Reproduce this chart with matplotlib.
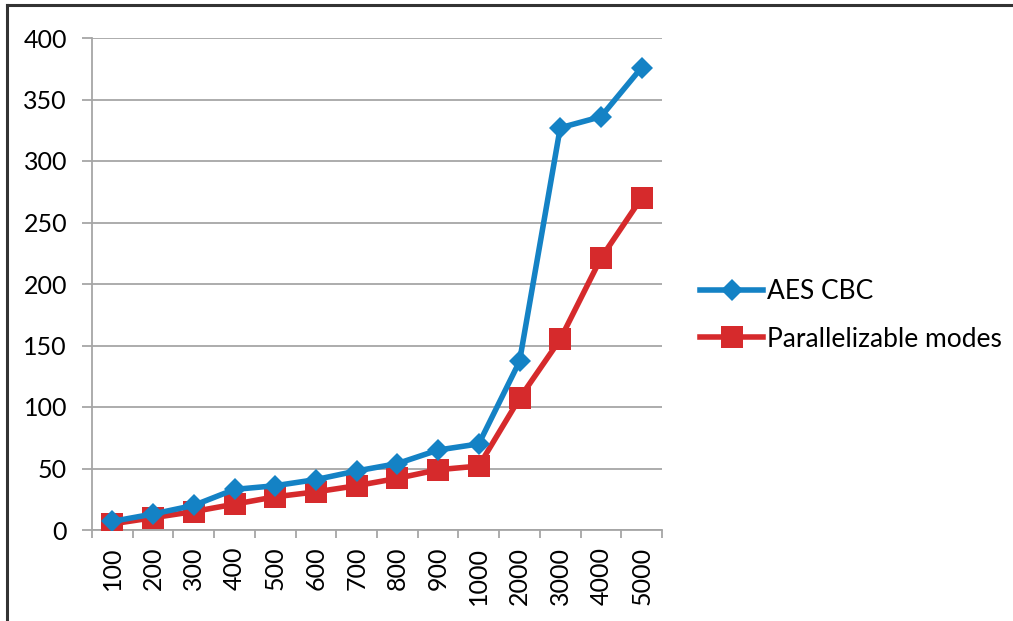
#!/usr/bin/env python3
"""AES CBC vs parallelizable modes timing chart."""

import matplotlib
matplotlib.use('Agg')
import matplotlib.pyplot as plt
from matplotlib.lines import Line2D

# --- DATA ---
sizes = ['100', '200', '300', '400', '500', '600', '700', '800', '900',
         '1000', '2000', '3000', '4000', '5000']
aes_cbc = [7, 13, 20, 33, 36, 41, 48, 54, 65, 70, 137, 327, 336, 376]
parallel = [5, 10, 15, 21, 27, 31, 36, 42, 49, 52, 107, 155, 221, 270]
y_ticks = [0, 50, 100, 150, 200, 250, 300, 350, 400]

BLUE = '#1482C5'
RED = '#D62A2C'
GRID = '#A6A6A6'
FS = 18

plt.rcParams['font.family'] = ['Lato', 'DejaVu Sans']

fig = plt.figure(figsize=(10.13, 6.21), dpi=100)
ax = fig.add_axes([92 / 1013, 91 / 621, 570 / 1013, 492 / 621])

x = list(range(len(sizes)))
ax.plot(x, aes_cbc, color=BLUE, lw=4, marker='D', ms=11.5,
        mec=BLUE, mew=0, label='AES CBC', zorder=4)
ax.plot(x, parallel, color=RED, lw=4, marker='s', ms=15.5,
        mec=RED, mew=0, label='Parallelizable modes', zorder=3)

ax.set_xlim(-0.5, len(sizes) - 0.5)
ax.set_ylim(0, 400)
ax.set_yticks(y_ticks)
ax.set_xticks(x)
ax.set_xticklabels(sizes, rotation=90, fontsize=FS)
ax.set_xticks([i - 0.5 for i in range(len(sizes) + 1)], minor=True)

ax.yaxis.grid(True, color=GRID, lw=1.3)
ax.set_axisbelow(True)
for side in ('top', 'right'):
    ax.spines[side].set_visible(False)
for side in ('left', 'bottom'):
    ax.spines[side].set_color(GRID)
    ax.spines[side].set_linewidth(1.3)

ax.tick_params(axis='y', labelsize=FS, length=7, width=1.3, color=GRID, pad=11)
ax.tick_params(axis='x', which='major', length=0, pad=12)
ax.tick_params(axis='x', which='minor', length=6, width=1.3, color=GRID)

handles = [
    Line2D([], [], color=BLUE, lw=4, marker='D', ms=11.5, mew=0),
    Line2D([], [], color=RED, lw=4, marker='s', ms=15.5, mew=0),
]
fig.legend(handles, ['AES CBC', 'Parallelizable modes'], loc='center left',
           bbox_to_anchor=(700 / 1013, 0.492), frameon=False, fontsize=19,
           handlelength=2.4, handletextpad=0.15, labelspacing=0.85,
           borderpad=0, borderaxespad=0)

# outer frame lines (top and left only)
fig.add_artist(Line2D([7 / 1013, 1.0], [1 - 5 / 621, 1 - 5 / 621],
                      transform=fig.transFigure, color='#333333', lw=2.2))
fig.add_artist(Line2D([7 / 1013, 7 / 1013], [0, 1 - 5 / 621],
                      transform=fig.transFigure, color='#333333', lw=2.2))

fig.savefig('out.png', dpi=100)
